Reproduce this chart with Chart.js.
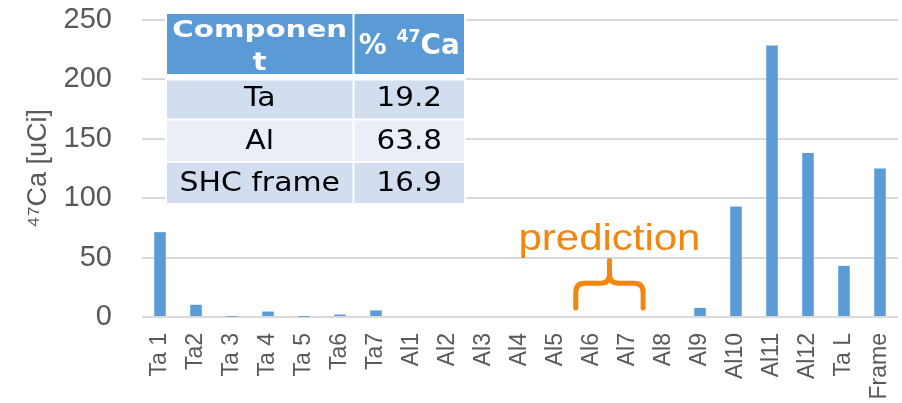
<!DOCTYPE html>
<html><head><meta charset="utf-8">
<script src="https://cdn.jsdelivr.net/npm/chart.js@4/dist/chart.umd.min.js"></script>
<style>html,body{margin:0;padding:0;background:#fff}#wrap{width:902px;height:403px}</style>
</head><body><div id="wrap"><canvas id="c" width="902" height="403"></canvas></div>
<script>
const categories = ['Ta 1','Ta2','Ta 3','Ta 4','Ta 5','Ta6','Ta7','Al1','Al2','Al3','Al4','Al5','Al6','Al7','Al8','Al9','Al10','Al11','Al12','Ta L','Frame'];
const activity = [71.4,10.3,0.3,4.6,0.1,2.1,5.5,0,0,0,0,0,0,0,0,7.7,93,228.5,138,43,125];
const yTickValues = [0,50,100,150,200,250];
const yTitle = '\u2074\u2077Ca [uCi]';
const tableHeadComponent = ['Componen','t'];
const tableHeadPercent = ['% ', '47', 'Ca'];
const tableComponents = ['Ta','Al','SHC frame'];
const tablePercents = ['19.2','63.8','16.9'];
const predictionLabel = 'prediction';
const predictionRange = ['Al6','Al7'];

const BLUE = '#5B9BD5';
const ORANGE = '#F2870F';
const GRAY = '#595959';

function drawStretched(ctx, text, cx, baseline, sx) {
  ctx.save();
  ctx.translate(cx, baseline);
  ctx.scale(sx, 1);
  ctx.textAlign = 'center';
  ctx.textBaseline = 'alphabetic';
  ctx.fillText(text, 0, 0);
  ctx.restore();
}
function drawFit(ctx, text, cx, baseline, width) {
  const w = ctx.measureText(text).width;
  drawStretched(ctx, text, cx, baseline, width / w);
}

const predictionPlugin = {
  id: 'prediction',
  afterDatasetsDraw(chart) {
    const {ctx, scales: {x, y}} = chart;
    const i1 = categories.indexOf(predictionRange[0]);
    const i2 = categories.indexOf(predictionRange[1]);
    const step = x.getPixelForValue(1) - x.getPixelForValue(0);
    const L = x.getPixelForValue(i1) - step * 0.45;
    const R = x.getPixelForValue(i2) + step * 0.42;
    const cx = (L + R) / 2;
    const yBot = y.getPixelForValue(7.5), yMid = y.getPixelForValue(28.5), yTop = y.getPixelForValue(47.5);
    const r = 9;
    ctx.save();
    ctx.strokeStyle = ORANGE; ctx.lineWidth = 5; ctx.lineCap = 'round'; ctx.lineJoin = 'round';
    ctx.beginPath();
    ctx.moveTo(L, yBot); ctx.lineTo(L, yMid + r); ctx.quadraticCurveTo(L, yMid, L + r, yMid);
    ctx.lineTo(cx - r, yMid); ctx.quadraticCurveTo(cx, yMid, cx, yMid - r); ctx.lineTo(cx, yTop);
    ctx.moveTo(R, yBot); ctx.lineTo(R, yMid + r); ctx.quadraticCurveTo(R, yMid, R - r, yMid);
    ctx.lineTo(cx + r, yMid); ctx.quadraticCurveTo(cx, yMid, cx, yMid - r);
    ctx.stroke();
    ctx.fillStyle = ORANGE;
    ctx.font = '37px "Liberation Sans", Arial, sans-serif';
    drawFit(ctx, predictionLabel, cx, y.getPixelForValue(56.6), 182);
    ctx.restore();
  }
};

const tablePlugin = {
  id: 'table',
  afterDraw(chart) {
    const {ctx, chartArea: ca} = chart;
    const x0 = ca.left + 25, xm0 = x0 + 185.5, xm1 = xm0 + 2, x1 = x0 + 297;
    const top = ca.top - 6;
    const rows = [[top, top + 60], [top + 66.5, top + 104.5], [top + 106.5, top + 147], [top + 149, top + 189]];
    const fills = [BLUE, '#D2DEEF', '#EAEFF7', '#D2DEEF'];
    ctx.save();
    ctx.fillStyle = '#fff';
    ctx.fillRect(x0 - 2, top - 2, x1 - x0 + 4, rows[3][1] - top + 4);
    rows.forEach((rw, i) => {
      ctx.fillStyle = fills[i];
      ctx.fillRect(x0, rw[0], xm0 - x0, rw[1] - rw[0]);
      ctx.fillRect(xm1, rw[0], x1 - xm1, rw[1] - rw[0]);
    });
    const c1 = (x0 + xm0) / 2, c2 = (xm1 + x1) / 2;
    ctx.fillStyle = '#fff';
    ctx.font = 'bold 23px "DejaVu Sans", Verdana, sans-serif';
    drawFit(ctx, tableHeadComponent[0], c1, top + 23, 175);
    ctx.font = 'bold 24px "DejaVu Sans", Verdana, sans-serif';
    drawStretched(ctx, tableHeadComponent[1], c1, top + 56, 1.2);
    const bigF = 'bold 29px "DejaVu Sans", Verdana, sans-serif';
    const supF = 'bold 18px "DejaVu Sans", Verdana, sans-serif';
    ctx.font = bigF; const w1 = ctx.measureText(tableHeadPercent[0]).width; const w3 = ctx.measureText(tableHeadPercent[2]).width;
    ctx.font = supF; const w2 = ctx.measureText(tableHeadPercent[1]).width;
    const total = w1 + w2 + w3, target = 101, sx = target / total;
    const base = top + 39.5;
    ctx.save();
    ctx.translate(c2 - target / 2, base);
    ctx.scale(sx, 1);
    ctx.textAlign = 'left'; ctx.textBaseline = 'alphabetic';
    ctx.font = bigF; ctx.fillText(tableHeadPercent[0], 0, 0);
    ctx.font = supF; ctx.fillText(tableHeadPercent[1], w1, -12);
    ctx.font = bigF; ctx.fillText(tableHeadPercent[2], w1 + w2, 0);
    ctx.restore();
    ctx.fillStyle = '#000';
    ctx.font = '26px "DejaVu Sans", Verdana, sans-serif';
    const baselines = [top + 92, top + 134.7, top + 177];
    tableComponents.forEach((t, i) => {
      drawStretched(ctx, t, c1, baselines[i], 1.15);
      drawStretched(ctx, tablePercents[i], c2, baselines[i], 1.13);
    });
    ctx.restore();
  }
};

new Chart(document.getElementById('c'), {
  type: 'bar',
  data: {
    labels: categories,
    datasets: [{ data: activity, backgroundColor: BLUE, borderWidth: 0, barPercentage: 0.32, categoryPercentage: 1 }]
  },
  options: {
    responsive: false, animation: false, devicePixelRatio: 1,
    layout: { padding: 0 },
    plugins: { legend: { display: false }, tooltip: { enabled: false } },
    scales: {
      x: {
        grid: { display: false, drawTicks: false },
        border: { display: false },
        ticks: { color: GRAY, font: { family: '"Liberation Sans", Arial, sans-serif', size: 23 }, minRotation: 90, maxRotation: 90, padding: 16, autoSkip: false },
        afterFit: s => { s.height = 86; s.paddingLeft = 0; s.paddingRight = 4; }
      },
      y: {
        min: 0, max: 250,
        afterBuildTicks: s => { s.ticks = yTickValues.map(v => ({ value: v })); },
        grid: { color: '#D9D9D9', lineWidth: 2, drawTicks: false },
        border: { display: false },
        ticks: { color: GRAY, font: { family: '"Liberation Sans", Arial, sans-serif', size: 29 }, padding: 30 },
        title: { display: true, text: yTitle, color: GRAY, font: { family: '"Liberation Sans", Arial, sans-serif', size: 27 }, padding: { top: 22, bottom: 0 } },
        afterFit: s => { s.width = 142; s.paddingTop = 20; s.paddingBottom = 0; }
      }
    }
  },
  plugins: [predictionPlugin, tablePlugin]
});
</script>
</body></html>
